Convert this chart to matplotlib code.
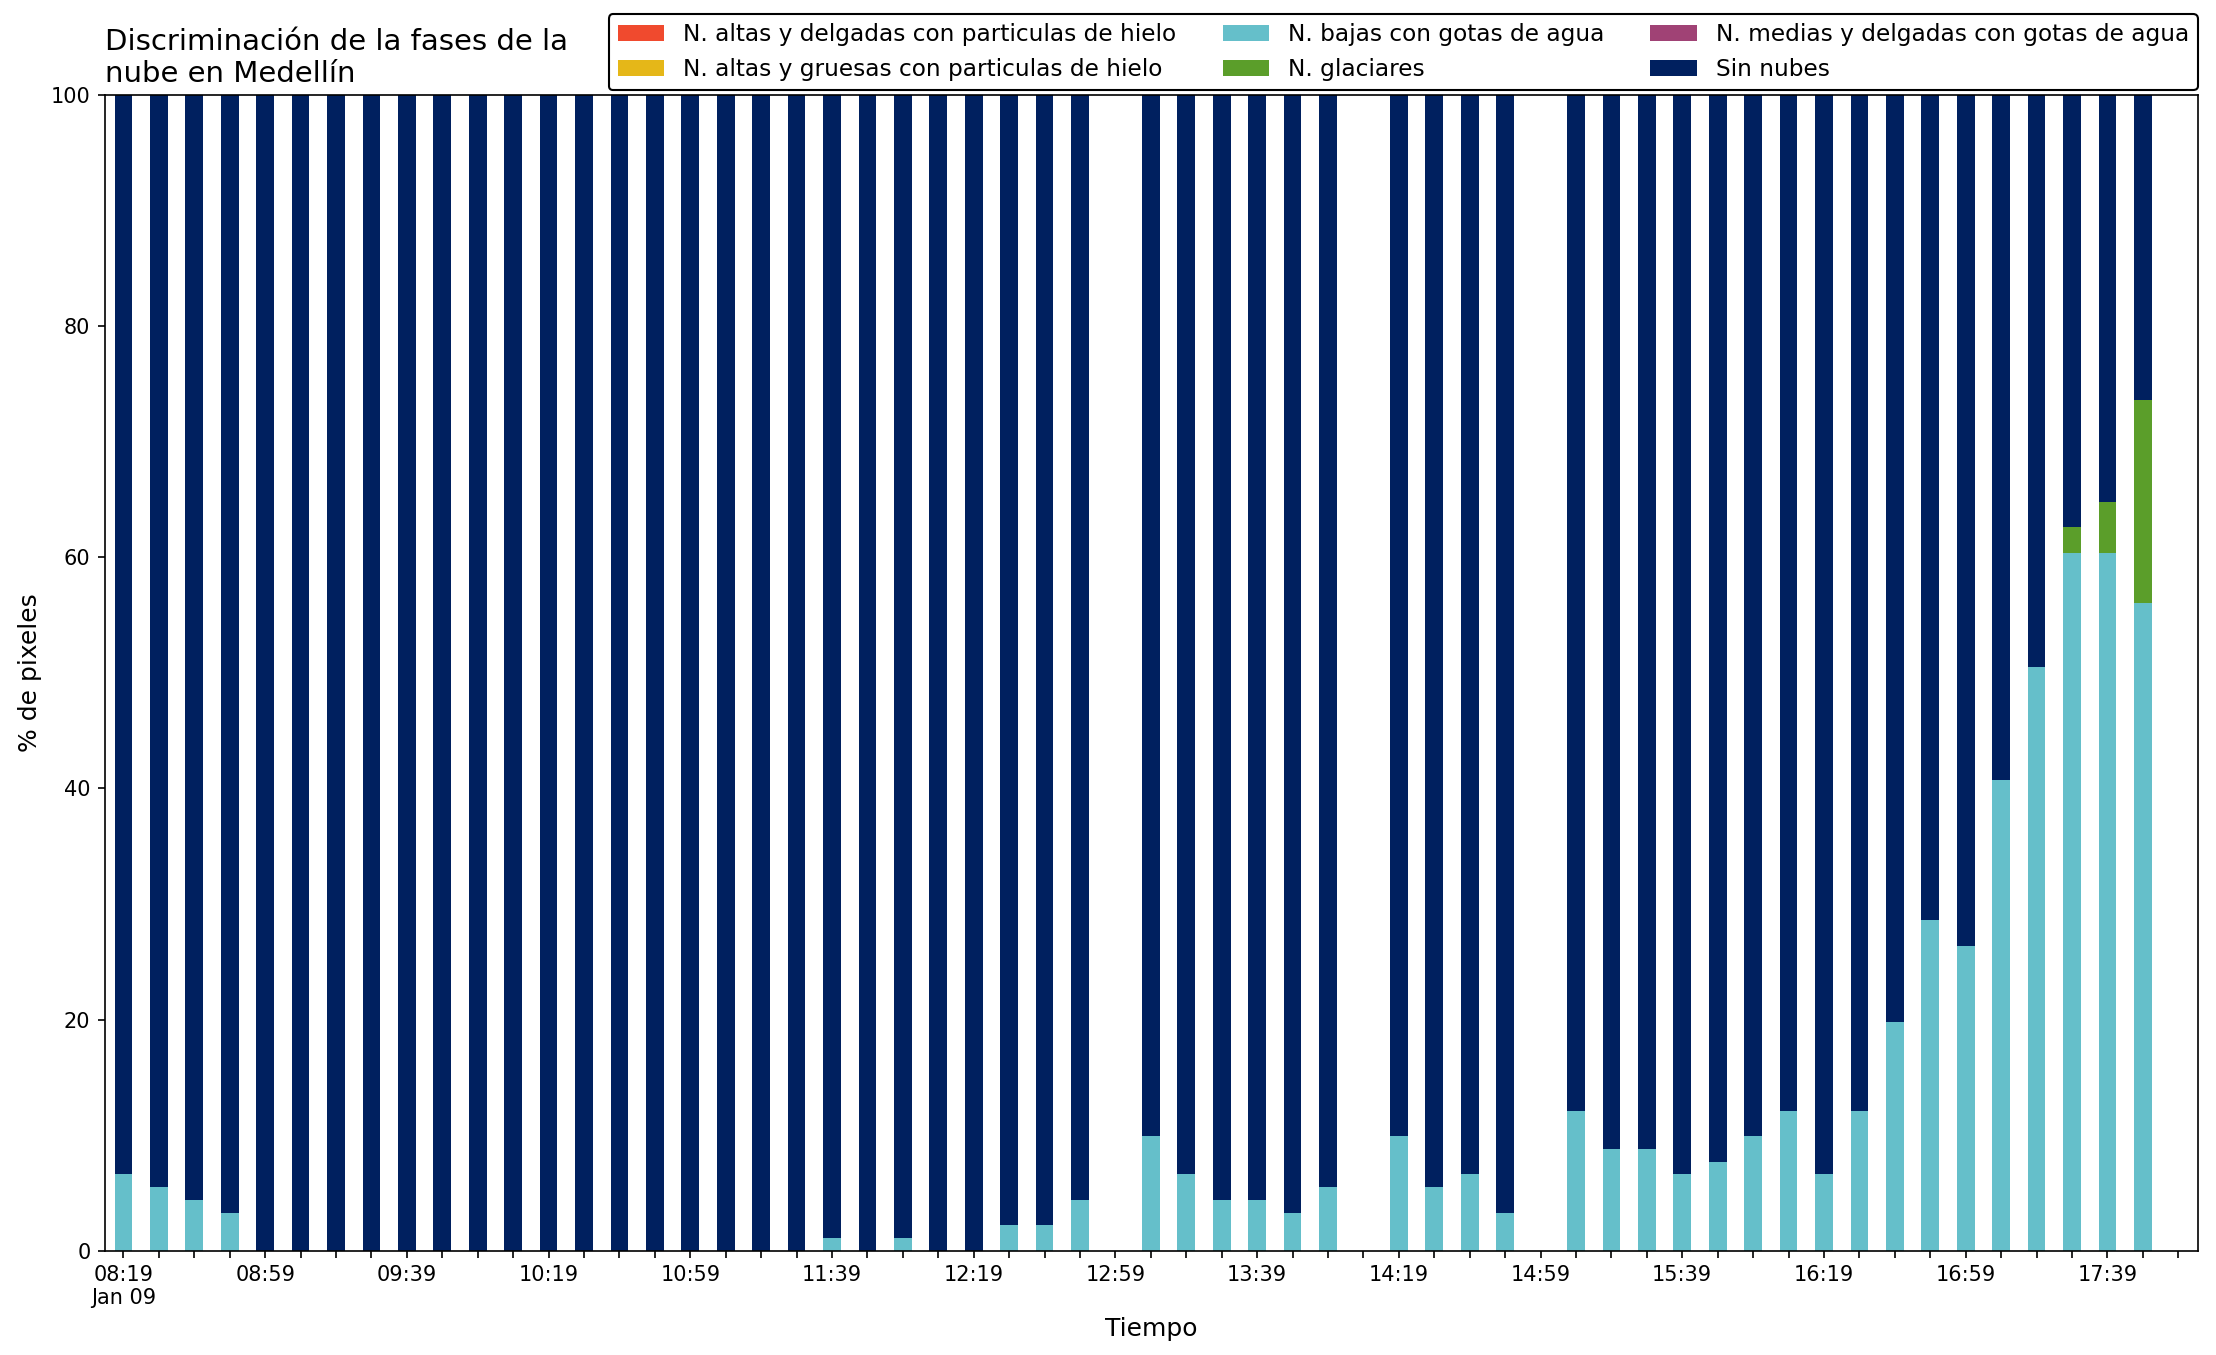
import numpy as np
import matplotlib
matplotlib.use('Agg')
from matplotlib import pyplot as plt

# 10 minute steps from 08:19 to 17:59 (Jan 09)
times = ['%02d:%02d' % divmod(8 * 60 + 19 + 10 * i, 60) for i in range(59)]

nan = np.nan
# % of pixels, N. bajas con gotas de agua (NaN = no data)
bajas = [6.6, 5.5, 4.4, 3.3, 0, 0, 0, 0, 0, 0,
         0, 0, 0, 0, 0, 0, 0, 0, 0, 0,
         1.1, 0, 1.1, 0, 0, 2.2, 2.2, 4.4, nan, 9.9,
         6.6, 4.4, 4.4, 3.3, 5.5, nan, 9.9, 5.5, 6.6, 3.3,
         nan, 12.1, 8.8, 8.8, 6.6, 7.7, 9.9, 12.1, 6.6, 12.1,
         19.8, 28.6, 26.4, 40.7, 50.5, 60.4, 60.4, 56.0, nan]
glaciares = [0] * 55 + [2.2, 4.4, 17.6, nan]
for i, v in enumerate(bajas):
    if np.isnan(v):
        glaciares[i] = nan

labels = ['N. altas y delgadas con particulas de hielo',
          'N. altas y gruesas con particulas de hielo',
          'N. bajas con gotas de agua',
          'N. glaciares',
          'N. medias y delgadas con gotas de agua',
          'Sin nubes']
colors = ['#F04A2E', '#E5B718', '#65BFCA', '#5B9E2A', '#A04275', '#00205F']

bajas = np.array(bajas)
glaciares = np.array(glaciares)
altas_delgadas = np.where(np.isnan(bajas), nan, 0.0)
altas_gruesas = np.where(np.isnan(bajas), nan, 0.0)
medias = np.where(np.isnan(bajas), nan, 0.0)
sin_nubes = 100 - bajas - glaciares

series = [altas_delgadas, altas_gruesas, bajas, glaciares, medias, sin_nubes]

fig = plt.figure(figsize=(2216 / 150, 1355 / 150), dpi=150)
ax = fig.add_axes([0.0474, 0.077, 0.9445, 0.853])

x = np.arange(len(times))
bottom = np.zeros(len(times))
for vals, lab, col in zip(series, labels, colors):
    v = np.nan_to_num(vals)
    ax.bar(x, v, 0.5, bottom=bottom, color=col, label=lab)
    bottom += v

ax.set_xlim(-0.52, 58.56)
ax.set_ylim(0, 100)
ax.set_xticks(x)
ticklabels = []
for i, t in enumerate(times):
    if i % 4 == 0:
        ticklabels.append(t + '\nJan 09' if i == 0 else t)
    else:
        ticklabels.append('')
ax.set_xticklabels(ticklabels)
ax.set_yticks([0, 20, 40, 60, 80, 100])
ax.set_xlabel('Tiempo', fontsize=12)
ax.set_ylabel('% de pixeles', fontsize=12)
ax.set_title('Discriminación de la fases de la\nnube en Medellín', loc='left',
             fontsize=14)
leg = ax.legend(ncol=3, loc='lower right', bbox_to_anchor=(1.0, 1.004),
                fontsize=11.15, framealpha=1, borderaxespad=0)
leg.get_frame().set_edgecolor('black')

plt.savefig('out.png', dpi=150)
